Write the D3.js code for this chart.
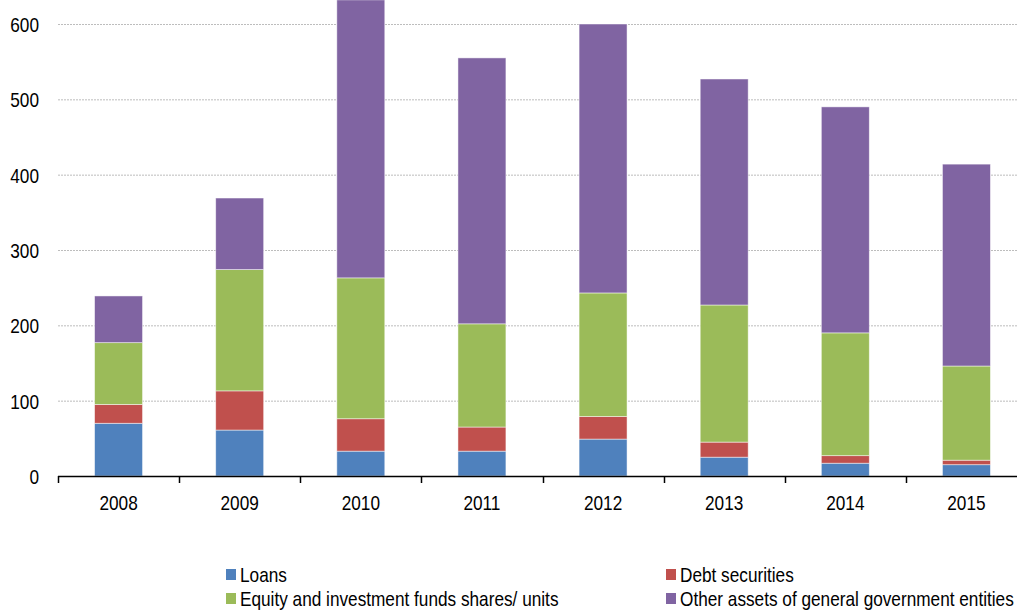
<!DOCTYPE html>
<html>
<head>
<meta charset="utf-8">
<script src="https://cdn.jsdelivr.net/npm/d3@7"></script>
<style>
  html, body { margin: 0; padding: 0; background: #ffffff; }
  svg { display: block; }
  text { font-family: "Liberation Sans Narrow", "Arial Narrow", "Liberation Sans", Arial, sans-serif; fill: #000; }
</style>
</head>
<body>
<svg id="chart" width="1017" height="610"></svg>
<script>
const years = ["2008", "2009", "2010", "2011", "2012", "2013", "2014", "2015"];
const seriesNames = ["Loans", "Debt securities", "Equity and investment funds shares/ units", "Other assets of general government entities"];
const seriesColors = ["#4F81BD", "#C0504D", "#9BBB59", "#8064A2"];
const loans = [70, 61, 33, 33, 49, 25, 17, 15];
const debtSecurities = [25, 52, 43, 32, 30, 20, 10, 6];
const equityFunds = [82, 161, 187, 137, 164, 182, 163, 125];
const otherAssets = [62, 95, 369, 353, 357, 300, 300, 268];
const yTicks = [0, 100, 200, 300, 400, 500, 600];

const seriesValues = [loans, debtSecurities, equityFunds, otherAssets];
const keys = ["loans", "debt", "equity", "other"];
const table = years.map((yr, i) => {
  const row = { year: yr };
  keys.forEach((k, j) => row[k] = seriesValues[j][i]);
  return row;
});

const SX = 0.82; // horizontal condensing to mimic a narrow font
const svg = d3.select("#chart");
const x = d3.scaleBand().domain(years).range([58, 1027]).paddingInner(0.604).paddingOuter(0.302);
const y = d3.scaleLinear().domain([0, 600]).range([476, 24]);

// gridlines
svg.append("g").selectAll("line")
  .data(yTicks.filter(t => t > 0))
  .join("line")
  .attr("x1", 58).attr("x2", 1017)
  .attr("y1", d => y(d) + 0.5).attr("y2", d => y(d) + 0.5)
  .attr("stroke", "#bdbdbd").attr("stroke-width", 1)
  .attr("stroke-dasharray", "2,1");

// stacked bars
const stack = d3.stack().keys(keys)(table);
svg.append("g").selectAll("g")
  .data(stack)
  .join("g")
  .attr("fill", (d, i) => seriesColors[i])
  .selectAll("rect")
  .data(d => d)
  .join("rect")
  .attr("x", d => x(d.data.year))
  .attr("width", x.bandwidth())
  .attr("y", d => y(d[1]))
  .attr("height", d => y(d[0]) - y(d[1]))
  .attr("stroke", "#ffffff").attr("stroke-opacity", 0.6).attr("stroke-width", 0.8);

// y axis labels
const yAxis = d3.axisLeft(y).tickValues(yTicks).tickSize(0).tickPadding(0);
const yg = svg.append("g").attr("transform", "translate(39,0)").call(yAxis);
yg.select(".domain").remove();
yg.selectAll("text").attr("font-size", 21).attr("font-family", null)
  .attr("x", 0).attr("dy", "0.35em").attr("transform", `scale(${SX},1)`);

// x axis
const xg = svg.append("g").attr("transform", "translate(0,476)");
xg.append("line").attr("x1", 58).attr("x2", 1017).attr("y1", 0.5).attr("y2", 0.5)
  .attr("stroke", "#000").attr("stroke-width", 1.5);
const step = x.step();
const boundaries = [x(years[0]) - x.paddingOuter() * step].concat(years.map(yr => x(yr) + x.bandwidth() + x.paddingInner() * step / 2));
xg.selectAll("line.tick").data(boundaries).join("line").attr("class", "tick")
  .attr("x1", d => Math.round(d) + 0.5).attr("x2", d => Math.round(d) + 0.5)
  .attr("y1", 0).attr("y2", 7).attr("stroke", "#000").attr("stroke-width", 1.5);
const xAxis = d3.axisBottom(x).tickSize(0).tickPadding(0);
const xl = svg.append("g").attr("transform", "translate(0,476)").call(xAxis);
xl.select(".domain").remove();
xl.selectAll("text").attr("font-size", 21).attr("font-family", null)
  .attr("y", 34).attr("dy", 0).attr("transform", `scale(${SX},1)`);

// legend
const legendPos = [[226, 575], [666, 575], [226, 599], [666, 599]];
const lg = svg.append("g").selectAll("g").data(seriesNames).join("g")
  .attr("transform", (d, i) => `translate(${legendPos[i][0]},${legendPos[i][1]})`);
lg.append("rect").attr("x", 0).attr("y", -6).attr("width", 10).attr("height", 11)
  .attr("fill", (d, i) => seriesColors[i]);
lg.append("text").attr("transform", `translate(14,7) scale(${SX},1)`)
  .attr("font-size", 21).text(d => d);
</script>
</body>
</html>
